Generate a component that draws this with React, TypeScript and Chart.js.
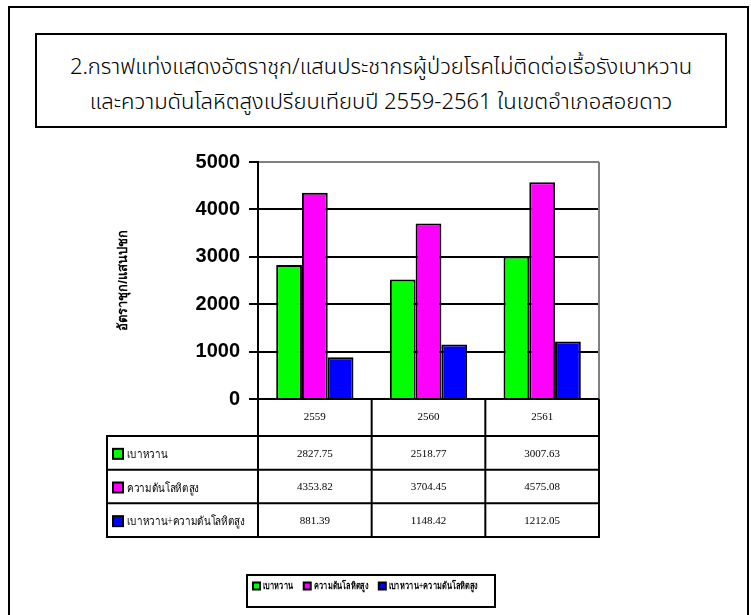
import React, { useEffect, useRef } from "react";
import { Chart, registerables } from "chart.js";

Chart.register(...registerables);

const categories = ["2559", "2560", "2561"];
const seriesNames = ["เบาหวาน", "ความดันโลหิตสูง", "เบาหวาน+ความดันโลหิตสูง"];
const diabetes = [2827.75, 2518.77, 3007.63];
const hypertension = [4353.82, 3704.45, 4575.08];
const both = [881.39, 1148.42, 1212.05];
const seriesColors = ["#00FF00", "#FF00FF", "#0000FF"];
const yMin = 0;
const yMax = 5000;
const yStep = 1000;
const yTitle = "อัตราชุก/แสนปชก";
const titleLines = [
  "2.กราฟแท่งแสดงอัตราชุก/แสนประชากรผู้ป่วยโรคไม่ติดต่อเรื้อรังเบาหวาน",
  "และความดันโลหิตสูงเปรียบเทียบปี 2559-2561 ในเขตอำเภอสอยดาว",
];

const serifFont = "'Liberation Serif', 'Times New Roman', 'DejaVu Serif', serif";
const sansFont = "'Liberation Sans', Arial, 'DejaVu Sans', sans-serif";

function fillCompressed(
  ctx: CanvasRenderingContext2D,
  text: string,
  x: number,
  y: number,
  sx: number
) {
  ctx.save();
  ctx.translate(x, y);
  ctx.scale(sx, 1);
  ctx.fillText(text, 0, 0);
  ctx.restore();
}

const tablePlugin = {
  id: "dataTable",
  afterDraw(chart: any) {
    const ctx = chart.ctx as CanvasRenderingContext2D;
    const area = chart.chartArea;
    const xs = chart.scales.x;
    const n = categories.length;
    const colW = (area.right - area.left) / n;
    const headerTop = area.bottom;
    const headerBottom = headerTop + 37;
    const tableBottom = xs.bottom;
    const rowH = (tableBottom - headerBottom) / 3;
    const tableLeft = 107;
    ctx.save();
    ctx.strokeStyle = "#808080";
    ctx.lineWidth = 2;
    ctx.beginPath();
    ctx.moveTo(area.right, area.top);
    ctx.lineTo(area.right, area.bottom);
    ctx.stroke();

    ctx.strokeStyle = "#000";
    ctx.lineWidth = 2;
    ctx.beginPath();
    for (let k = 0; k <= n; k++) {
      const x = area.left + k * colW;
      ctx.moveTo(x, headerTop);
      ctx.lineTo(x, tableBottom);
    }
    ctx.moveTo(tableLeft, headerBottom);
    ctx.lineTo(tableLeft, tableBottom);
    ctx.moveTo(area.left, headerTop);
    ctx.lineTo(area.right, headerTop);
    for (let r = 0; r <= 3; r++) {
      const y = headerBottom + r * rowH;
      ctx.moveTo(tableLeft - 1, y);
      ctx.lineTo(area.right + 1, y);
    }
    ctx.stroke();

    ctx.font = `12px ${serifFont}`;
    const longest = Math.max(
      ...chart.data.datasets.map((d: any) => ctx.measureText(d.label).width)
    );
    const rowScale = Math.min(1, 118 / longest);

    ctx.fillStyle = "#000";
    ctx.textBaseline = "middle";
    chart.data.datasets.forEach((ds: any, r: number) => {
      const cy = headerBottom + r * rowH + rowH / 2 + 1;
      ctx.textAlign = "center";
      ctx.font = `11px ${serifFont}`;
      ds.data.forEach((v: number, i: number) => {
        const cx = xs.getPixelForValue(i);
        ctx.fillText(v.toFixed(2), cx, cy);
      });
      const ky = cy - 5;
      ctx.fillStyle = ds.backgroundColor;
      ctx.fillRect(113, ky, 10, 10);
      ctx.strokeStyle = "#000";
      ctx.lineWidth = 2;
      ctx.strokeRect(113, ky, 10, 10);
      ctx.fillStyle = "#000";
      ctx.textAlign = "left";
      ctx.font = `12px ${serifFont}`;
      fillCompressed(ctx, ds.label, 127, cy + 1, rowScale);
    });

    const lx = 247, ly = 575, lw = 248, lh = 32;
    ctx.strokeStyle = "#000";
    ctx.lineWidth = 2;
    ctx.strokeRect(lx, ly, lw, lh);
    ctx.font = `bold 10px ${serifFont}`;
    ctx.textAlign = "left";
    ctx.textBaseline = "middle";
    const legLongest = Math.max(
      ...chart.data.datasets.map((d: any) => ctx.measureText(d.label).width)
    );
    const legScale = Math.min(1, 89 / legLongest);
    let x = 253;
    const cyL = 586;
    chart.data.datasets.forEach((ds: any) => {
      ctx.fillStyle = ds.backgroundColor;
      ctx.fillRect(x, cyL - 3.5, 7, 7);
      ctx.strokeStyle = "#000";
      ctx.lineWidth = 2;
      ctx.strokeRect(x, cyL - 3.5, 7, 7);
      ctx.fillStyle = "#000";
      fillCompressed(ctx, ds.label, x + 10, cyL, legScale);
      x = x + 10 + ctx.measureText(ds.label).width * legScale + 10.5;
    });
    ctx.restore();
  },
};

export default function App() {
  const canvasRef = useRef<HTMLCanvasElement | null>(null);

  useEffect(() => {
    if (!canvasRef.current) return;
    const chart = new Chart(canvasRef.current, {
      type: "bar",
      data: {
        labels: categories,
        datasets: [
          { label: seriesNames[0], data: diabetes, backgroundColor: seriesColors[0] },
          { label: seriesNames[1], data: hypertension, backgroundColor: seriesColors[1] },
          { label: seriesNames[2], data: both, backgroundColor: seriesColors[2] },
        ].map((d) => ({
          ...d,
          borderColor: "#000",
          borderWidth: 2,
          barPercentage: 1,
          categoryPercentage: 0.68,
        })),
      },
      options: {
        responsive: false,
        animation: false,
        layout: { padding: { left: 110, right: 152, top: 162, bottom: 78 } },
        plugins: {
          legend: { display: false },
          tooltip: { enabled: false },
          title: { display: false },
        },
        scales: {
          x: {
            afterFit: (scale: any) => {
              scale.height = 138;
            },
            grid: { display: false, drawTicks: false },
            border: { display: true, color: "#000", width: 2 },
            ticks: {
              color: "#000",
              font: { family: serifFont, size: 11 },
              padding: 12,
            },
          },
          y: {
            min: yMin,
            max: yMax,
            afterFit: (scale: any) => {
              scale.width = 148;
            },
            ticks: {
              stepSize: yStep,
              color: "#000",
              padding: 9,
              font: { family: sansFont, size: 20, weight: "bold" },
              callback: (v: any) => String(v),
            },
            grid: {
              color: (c: any) => (c.tick && c.tick.value === yMax ? "#808080" : "#000"),
              tickColor: "#000",
              lineWidth: 2,
              tickLength: 9,
            },
            border: { display: true, color: "#000", width: 2 },
            title: {
              display: true,
              text: yTitle,
              color: "#000",
              padding: { top: 6, bottom: 0 },
              font: { family: sansFont, size: 13, weight: "bold" },
            },
          },
        },
      },
      plugins: [tablePlugin],
    } as any);
    return () => chart.destroy();
  }, []);

  return (
    <div
      style={{
        position: "absolute",
        left: 0,
        top: 0,
        width: 751,
        height: 615,
        overflow: "hidden",
        background: "#fff",
      }}
    >
      <div
        style={{
          position: "absolute",
          left: 8,
          top: 6,
          width: 737,
          height: 640,
          border: "2px solid #000",
        }}
      />
      <div
        style={{
          position: "absolute",
          left: 35,
          top: 33,
          width: 688,
          height: 91,
          border: "2px solid #000",
          textAlign: "center",
          fontFamily: "'Noto Sans Thai', 'Leelawadee UI', Tahoma, 'Noto Sans', 'DejaVu Sans', sans-serif",
          fontSize: 22,
          fontWeight: 300,
          lineHeight: "35px",
          boxSizing: "content-box",
        }}
      >
        <div style={{ paddingTop: 15 }}>
          {titleLines[0]}
          <br />
          {titleLines[1]}
        </div>
      </div>
      <canvas
        ref={canvasRef}
        width={751}
        height={615}
        style={{ position: "absolute", left: 0, top: 0, width: 751, height: 615 }}
      />
    </div>
  );
}
